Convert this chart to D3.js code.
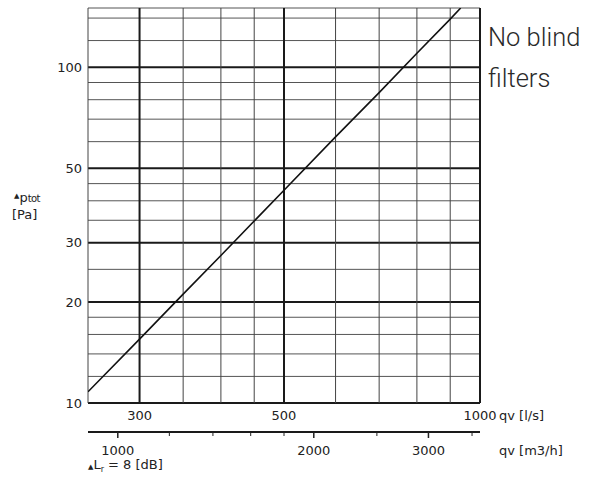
<!DOCTYPE html>
<html>
<head>
<meta charset="utf-8">
<script src="https://cdn.jsdelivr.net/npm/d3@7"></script>
<style>
  body { margin: 0; background: #fff; }
  text { font-family: "DejaVu Sans", "Liberation Sans", sans-serif; fill: #222; }
</style>
</head>
<body>
<div id="chart"></div>
<script>
// values
const flowLs = [250, 300, 350, 400, 500, 600, 700, 800, 900, 934];
const pressurePa = [10.8, 15.5, 21.1, 27.5, 43, 62, 84, 110, 139, 150];

const xGrid = [250, 300, 350, 400, 450, 500, 600, 700, 800, 900, 1000];
const xMajor = [300, 500, 1000];
const yGrid = [10, 12, 14, 16, 18, 20, 25, 30, 35, 40, 45, 50, 60, 70, 80, 90, 100, 120, 140, 150];
const yMajor = [10, 20, 30, 50, 100];
const yTickLabels = [10, 20, 30, 50, 100];
const xTickLabels = [300, 500, 1000];
const m3hTicks = [1000, 1200, 1400, 1600, 1800, 2000, 2500, 3000, 3500];
const m3hLabels = [1000, 2000, 3000];

const canvWidth = 600, canvHeight = 484;
const margin = {top: 8, right: 120, bottom: 81, left: 88};
const width = 480 - margin.left;
const height = 403 - margin.top;
const fs = 13;

const svg = d3.select("#chart").append("svg")
    .attr("width", canvWidth)
    .attr("height", canvHeight);

const g = svg.append("g")
    .attr("transform", `translate(${margin.left},${margin.top})`);

const x = d3.scaleLog().domain([250, 1000]).range([0, width]);
const y = d3.scaleLog().domain([10, 150]).range([height, 0]);

// grid - horizontal
g.selectAll("line.hgrid")
    .data(yGrid)
    .enter().append("line")
    .attr("class", "hgrid")
    .attr("x1", 0).attr("x2", width)
    .attr("y1", d => y(d)).attr("y2", d => y(d))
    .attr("stroke", d => yMajor.includes(d) ? "#1a1a1a" : "#555")
    .attr("stroke-width", d => yMajor.includes(d) ? 2 : 1);

// grid - vertical
g.selectAll("line.vgrid")
    .data(xGrid)
    .enter().append("line")
    .attr("class", "vgrid")
    .attr("x1", d => x(d)).attr("x2", d => x(d))
    .attr("y1", 0).attr("y2", height)
    .attr("stroke", d => xMajor.includes(d) ? "#1a1a1a" : "#444")
    .attr("stroke-width", d => xMajor.includes(d) ? 2 : 1);

// curve
g.append("clipPath").attr("id", "plot-clip")
    .append("rect").attr("width", width).attr("height", height);

const line = d3.line()
    .x((d, i) => x(flowLs[i]))
    .y(d => y(d));

g.append("path")
    .datum(pressurePa)
    .attr("clip-path", "url(#plot-clip)")
    .attr("d", line)
    .attr("fill", "none")
    .attr("stroke", "#111")
    .attr("stroke-width", 1.6);

// y tick labels
g.selectAll("text.ylab")
    .data(yTickLabels)
    .enter().append("text")
    .attr("class", "ylab")
    .attr("x", -6)
    .attr("y", d => y(d))
    .attr("dy", "0.36em")
    .attr("text-anchor", "end")
    .attr("font-size", fs)
    .text(d => d);

// x tick labels (l/s)
g.selectAll("text.xlab")
    .data(xTickLabels)
    .enter().append("text")
    .attr("class", "xlab")
    .attr("x", d => x(d))
    .attr("y", height + 17)
    .attr("text-anchor", "middle")
    .attr("font-size", fs)
    .text(d => d);

g.append("text")
    .attr("x", width + 19)
    .attr("y", height + 17)
    .attr("font-size", fs)
    .text("qv [l/s]");

// y axis title
const yTitle = g.append("text")
    .attr("x", -74)
    .attr("y", 192)
    .attr("font-size", fs);
yTitle.append("tspan").attr("font-size", 7).attr("dy", -2).text("▲");
yTitle.append("tspan").attr("dy", 4).text("p");
yTitle.append("tspan").attr("font-size", 10).attr("dy", 0).attr("letter-spacing", -0.6).text("tot");

g.append("text")
    .attr("x", -76)
    .attr("y", 211)
    .attr("font-size", fs)
    .text("[Pa]");

// secondary axis m3/h (1 l/s = 3.6 m3/h)
const sec = g.append("g")
    .attr("transform", `translate(0,${height + 29})`);

sec.append("line")
    .attr("x1", 0).attr("x2", width)
    .attr("stroke", "#1a1a1a")
    .attr("stroke-width", 2);

sec.selectAll("line.tick")
    .data(m3hTicks)
    .enter().append("line")
    .attr("class", "tick")
    .attr("x1", d => x(d / 3.6)).attr("x2", d => x(d / 3.6))
    .attr("y1", 0)
    .attr("y2", d => m3hLabels.includes(d) ? 6 : 4)
    .attr("stroke", "#222")
    .attr("stroke-width", d => m3hLabels.includes(d) ? 1.5 : 1);

sec.selectAll("text.m3h")
    .data(m3hLabels)
    .enter().append("text")
    .attr("class", "m3h")
    .attr("x", d => x(d / 3.6))
    .attr("y", 23)
    .attr("text-anchor", "middle")
    .attr("font-size", fs)
    .text(d => d);

sec.append("text")
    .attr("x", width + 19)
    .attr("y", 23)
    .attr("font-size", fs)
    .text("qv [m3/h]");

// ΔLr note
const note = sec.append("text")
    .attr("x", 0)
    .attr("y", 37)
    .attr("font-size", fs);
note.append("tspan").attr("font-size", 7).text("▲");
note.append("tspan").text("L");
note.append("tspan").attr("font-size", 8).attr("dy", 3).text("r");
note.append("tspan").attr("dy", -3).text(" = 8 [dB]");

// side note
const side = svg.append("text")
    .attr("font-size", 25.5)
    .style("font-family", "Roboto, 'Liberation Sans', sans-serif")
    .style("font-weight", 300)
    .style("fill", "#2a2a2a");
side.append("tspan").attr("x", 488).attr("y", 46).text("No blind");
side.append("tspan").attr("x", 488).attr("y", 87).text("filters");
</script>
</body>
</html>
